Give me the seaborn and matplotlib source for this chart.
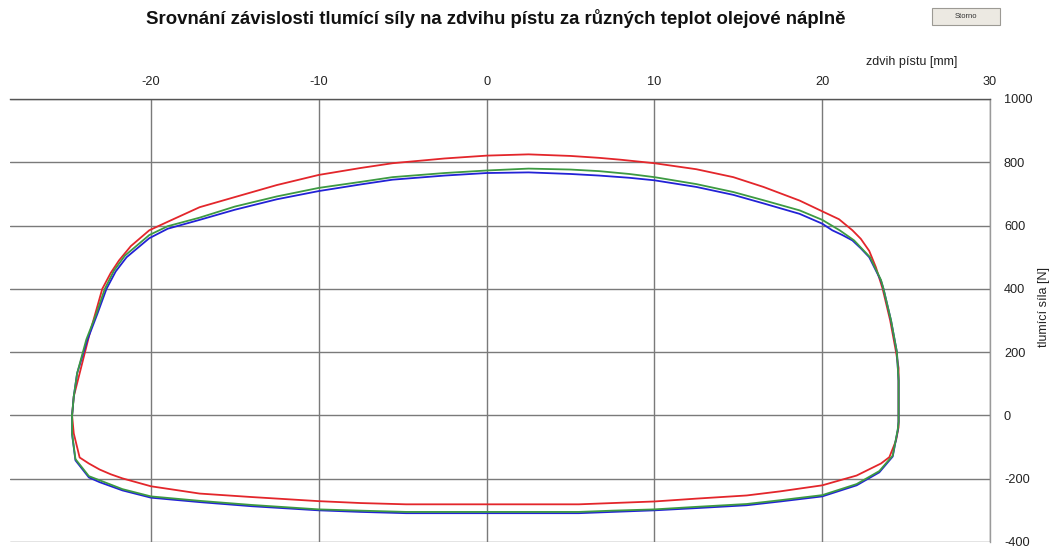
import numpy as np
import pandas as pd
import matplotlib
matplotlib.use("Agg")
import matplotlib.pyplot as plt
from matplotlib.patches import Rectangle
import seaborn as sns

# ---- data ----
title = "Srovnání závislosti tlumící síly na zdvihu pístu za různých teplot olejové náplně"
x_label = "zdvih pístu [mm]"
y_label = "tlumící síla [N]"
x_ticks = [-20, -10, 0, 10, 20, 30]
y_ticks = [-400, -200, 0, 200, 400, 600, 800, 1000]

red_x = [-24.7, -24.6, -24.25, -23.65, -22.9, -22.4, -21.9, -21.2, -20.1, -19.0, -17.1, -15.0, -12.5,
         -10.0, -7.5, -5.6, -2.5, 0.0, 2.5, 5.0, 6.7, 8.0, 10.0, 12.5, 14.7, 16.5, 18.65, 20.0, 21.0,
         21.8, 22.3, 22.8, 23.2, 23.6, 24.05, 24.4, 24.55, 24.55, 24.4, 24.0, 23.5, 22.05,
         20.0, 17.5, 15.5, 12.5, 10.0, 7.5, 5.5, 0.0, -4.8, -7.5, -10.0, -14.0, -17.1, -20.0, -21.7,
         -22.4, -23.06, -23.7, -24.25, -24.6, -24.7]
red_y = [0, 60, 133, 259, 400, 450, 490, 535, 585, 612, 658, 690, 728,
         760, 782, 797, 812, 821, 825, 820, 814, 808, 797, 778, 753, 722, 679, 645, 620,
         585, 558, 520, 468, 400, 300, 200, 150, -37, -79, -132, -152, -190,
         -221, -240, -253, -263, -272, -277, -281, -281, -281, -277, -271, -258, -247, -224, -199,
         -186, -171, -152, -133, -57, 0]

blue_x = [-24.7, -24.6, -24.4, -23.8, -23.2, -22.65, -22.1, -21.45, -20.1, -19.0, -17.1, -15.0, -12.5,
          -10.0, -7.5, -5.6, -2.5, 0.0, 2.5, 5.0, 6.7, 8.5, 10.0, 12.5, 14.7, 16.5, 18.65, 20.0, 20.6,
          21.2, 21.8, 22.3, 22.8, 23.5, 23.65, 24.1, 24.45, 24.55, 24.55, 24.5, 24.2, 23.4,
          22.05, 20.0, 17.5, 15.5, 12.5, 10.0, 7.5, 5.5, 0.0, -4.8, -7.5, -10.0, -14.0, -17.1, -20.0,
          -21.7, -23.06, -23.7, -24.5, -24.7, -24.7]
blue_y = [0, 60, 133, 237, 320, 400, 455, 500, 560, 590, 618, 650, 683,
          709, 730, 745, 758, 766, 768, 763, 758, 751, 743, 722, 697, 670, 637, 606, 585,
          570, 553, 528, 500, 426, 400, 300, 200, 110, -20, -47, -130, -180,
          -221, -256, -272, -284, -293, -300, -305, -309, -309, -309, -305, -300, -287, -274, -260,
          -237, -211, -196, -142, -60, 0]

green_x = [-24.7, -24.6, -24.4, -23.85, -23.25, -22.75, -22.2, -21.55, -20.1, -19.0, -17.1, -15.0, -12.5,
           -10.0, -7.5, -5.6, -2.5, 0.0, 2.5, 5.0, 6.7, 8.5, 10.0, 12.5, 14.7, 16.5, 18.65, 20.0, 21.04,
           21.5, 21.9, 22.4, 22.85, 23.5, 23.65, 24.1, 24.45, 24.55, 24.55, 24.5, 24.2, 23.4,
           22.05, 20.0, 17.5, 15.5, 12.5, 10.0, 7.5, 5.5, 0.0, -4.8, -7.5, -10.0, -14.0, -17.1, -20.0,
           -21.7, -23.06, -23.7, -24.5, -24.7, -24.7]
green_y = [0, 60, 133, 240, 322, 400, 458, 505, 570, 598, 625, 660, 692,
           719, 738, 753, 766, 774, 780, 777, 772, 763, 753, 731, 706, 680, 648, 618, 585,
           568, 553, 525, 500, 428, 400, 300, 200, 110, -20, -45, -127, -176,
           -217, -252, -268, -280, -289, -297, -301, -305, -305, -305, -301, -297, -283, -270, -256,
           -233, -205, -192, -138, -58, 0]

series_names = ["red", "blue", "green"]
series_colors = {"red": "#e3262b", "blue": "#2222d6", "green": "#3d9a42"}

frames = []
for name, xs, ys in [("red", red_x, red_y), ("blue", blue_x, blue_y), ("green", green_x, green_y)]:
    frames.append(pd.DataFrame({"x": xs, "y": ys, "series": name, "order": np.arange(len(xs))}))
df = pd.concat(frames, ignore_index=True)

# ---- plot ----
sns.set_style("white")
plt.rcParams["font.family"] = ["Liberation Sans", "DejaVu Sans"]
plt.rcParams["axes.unicode_minus"] = False

fig = plt.figure(figsize=(10.52, 5.49), dpi=100)
ax = fig.add_axes([0.0095, 0.0128, 0.9316, 0.8069])

for name in series_names:
    sub = df[df["series"] == name]
    sns.lineplot(data=sub, x="x", y="y", sort=False, estimator=None,
                 color=series_colors[name], linewidth=1.3, ax=ax, legend=False)

ax.set_xlim(-28.4, 30)
ax.set_ylim(-400, 1000)
ax.set_xticks(x_ticks)
ax.set_yticks(y_ticks)
ax.xaxis.tick_top()
ax.yaxis.tick_right()
ax.tick_params(axis="both", length=0, labelsize=9.2, colors="#222222")
ax.tick_params(axis="x", pad=8)
ax.tick_params(axis="y", pad=10)

ax.grid(True, color="#7a7a7a", linewidth=1.0)
ax.set_axisbelow(True)

for side in ["left", "bottom"]:
    ax.spines[side].set_visible(False)
ax.spines["top"].set_color("#555555")
ax.spines["top"].set_linewidth(1.0)
ax.spines["right"].set_color("#9a9a9a")
ax.spines["right"].set_linewidth(1.0)

ax.set_xlabel("")
ax.set_ylabel("")
fig.text(0.91, 0.887, x_label, ha="right", va="center", fontsize=9, color="#222222")
fig.text(0.992, 0.44, y_label, ha="center", va="center", rotation=90, fontsize=9, color="#222222")

fig.text(0.471, 0.966, title, ha="center", va="center", fontsize=13.4, fontweight="bold", color="#111111")

# "Storno" button
fig.patches.append(Rectangle((0.886, 0.954), 0.065, 0.031, transform=fig.transFigure,
                             facecolor="#ece9e2", edgecolor="#9c9a94", linewidth=0.8))
fig.text(0.9185, 0.9695, "Storno", ha="center", va="center", fontsize=5.5, color="#333333")

fig.savefig("out.png", dpi=100)
